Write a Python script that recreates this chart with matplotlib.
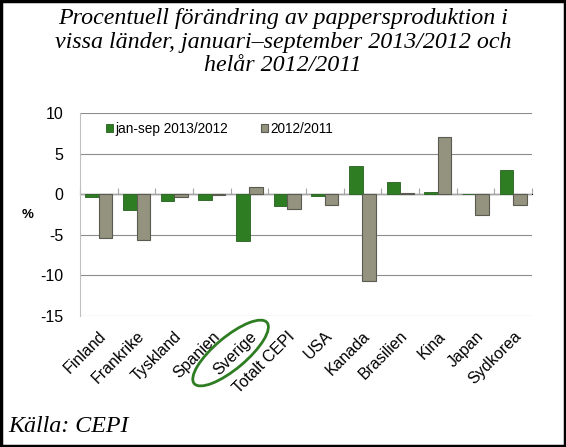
import numpy as np
import matplotlib
matplotlib.use('Agg')
import matplotlib.pyplot as plt
from matplotlib.patches import Ellipse, Rectangle

# Data
countries = ['Finland', 'Frankrike', 'Tyskland', 'Spanien', 'Sverige', 'Totalt CEPI',
             'USA', 'Kanada', 'Brasilien', 'Kina', 'Japan', 'Sydkorea']
jan_sep_2013 = [-0.4, -1.9, -0.8, -0.7, -5.8, -1.4, -0.2, 3.5, 1.55, 0.25, 0.0, 3.0]
full_2012 = [-5.45, -5.7, -0.4, -0.1, 0.9, -1.8, -1.3, -10.7, 0.2, 7.0, -2.5, -1.3]
series_labels = ['jan-sep 2013/2012', '2012/2011']
yticks = [10, 5, 0, -5, -10, -15]

green = '#2e7d23'
grey = '#94937f'

fig = plt.figure(figsize=(5.66, 4.47), dpi=100)
ax = fig.add_axes([80 / 566, (447 - 316) / 447, 452 / 566, 203 / 447])

x = np.arange(len(countries))
w = 0.36
ax.bar(x - w / 2, jan_sep_2013, w, color=green, edgecolor='#26601f', linewidth=0.6,
       label=series_labels[0], zorder=3)
ax.bar(x + w / 2, full_2012, w, color=grey, edgecolor='#5a5a50', linewidth=0.8,
       label=series_labels[1], zorder=3)

ax.set_xlim(-0.5, len(countries) - 0.5)
ax.set_ylim(-15, 10)
ax.set_yticks(yticks)
ax.set_yticklabels([str(t) for t in yticks], fontsize=11.5, family='Liberation Sans')
ax.yaxis.grid(True, color='#8c8c8c', linewidth=0.8)
ax.set_axisbelow(True)
ax.tick_params(axis='y', length=0, pad=12)
ax.axhline(0, color='#a6a6a6', linewidth=1.0, zorder=2)

for s in ['top', 'right', 'bottom']:
    ax.spines[s].set_visible(False)
ax.spines['left'].set_color('#bfbfbf')

ax.set_xticks(x)
ax.set_xticklabels(countries, rotation=45, ha='right', rotation_mode='anchor',
                   fontsize=11.5, family='Liberation Sans')
ax.tick_params(axis='x', length=0, pad=9)

# small ticks on the zero line between categories
sec = ax.secondary_xaxis(0.6)
sec.set_xticks(np.arange(len(countries) + 1) - 0.5)
sec.set_xticklabels([])
sec.tick_params(axis='x', length=4, color='#a6a6a6', direction='out')
sec.spines['bottom'].set_visible(False)

ax.set_ylabel('%', rotation=0, fontsize=9.5, fontweight='bold', family='Liberation Sans',
              labelpad=9, va='center')

leg = ax.legend(loc='upper left', bbox_to_anchor=(0.03, 1.015), ncol=2, frameon=False,
                handlelength=0.55, handleheight=0.55, handletextpad=0.15,
                columnspacing=2.4, prop={'family': 'Liberation Sans', 'size': 9.8})

fig.text(0.5, 0.982, 'Procentuell förändring av pappersproduktion i\n'
         'vissa länder, januari–september 2013/2012 och\nhelår 2012/2011',
         ha='center', va='top', fontsize=17.3, style='italic', family='Liberation Serif',
         linespacing=1.17)
fig.text(8 / 566, 1 - 427 / 447, 'Källa: CEPI', ha='left', va='center', fontsize=17.3,
         style='italic', family='Liberation Serif')

# ellipse around the Sverige label
fig.canvas.draw()
lab = ax.get_xticklabels()[countries.index('Sverige')]
bb = lab.get_window_extent().transformed(fig.dpi_scale_trans.inverted())
cx, cy = (bb.x0 + bb.x1) / 2 - 0.05, (bb.y0 + bb.y1) / 2
ell = Ellipse((cx, cy), 0.95, 0.32, angle=40, fill=False,
              edgecolor=green, linewidth=2, transform=fig.dpi_scale_trans)
fig.patches.append(ell)

# outer border
fig.patches.append(Rectangle((0.002, 0.002), 0.996, 0.996, fill=False, edgecolor='black',
                             linewidth=2.5, transform=fig.transFigure))

fig.savefig('out.png', dpi=100)
